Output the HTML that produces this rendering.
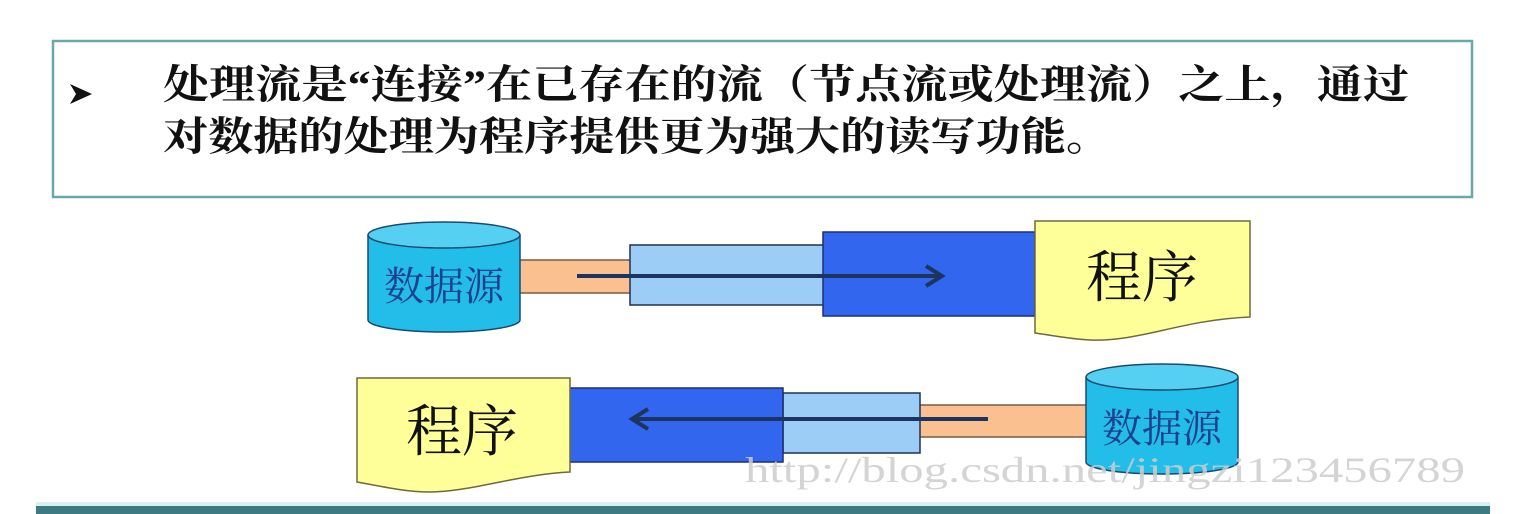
<!DOCTYPE html>
<html><head><meta charset="utf-8"><style>
html,body{margin:0;padding:0;background:#fff;}
body{width:1534px;height:514px;overflow:hidden;position:relative;}
</style></head><body>
<svg width="1534" height="514" xmlns="http://www.w3.org/2000/svg" style="position:absolute;left:0;top:0">
<rect x="53" y="41" width="1419" height="156" fill="#fff" stroke="#6aa7a8" stroke-width="2.5"/>
<path d="M70 84 L92 94 L70 104 L76 94 Z" fill="#111"/>
<text x="163" y="98" font-family="'Liberation Serif','Noto Serif CJK SC',serif" font-size="40" font-weight="bold" fill="#111" textLength="1246" lengthAdjust="spacingAndGlyphs">处理流是“连接”在已存在的流（节点流或处理流）之上，通过</text>
<text x="163" y="150" font-family="'Liberation Serif','Noto Serif CJK SC',serif" font-size="40" font-weight="bold" fill="#111" textLength="948" lengthAdjust="spacingAndGlyphs">对数据的处理为程序提供更为强大的读写功能。</text>

<!-- top row -->
<rect x="518" y="260" width="114" height="33" fill="#fac090" stroke="#7a5a40" stroke-width="1.5"/>
<rect x="630" y="245" width="195" height="60" fill="#9bcdf6" stroke="#1f3050" stroke-width="1.5"/>
<rect x="823" y="232" width="212" height="84" fill="#3366ee" stroke="#1f2f70" stroke-width="1.5"/>
<path d="M368 235 V320 A76 12 0 0 0 520 320 V235" fill="#22bde9" stroke="#1a4a70" stroke-width="1.5"/>
<ellipse cx="444" cy="235" rx="76" ry="13" fill="#55d0f2" stroke="#1a4a70" stroke-width="1.5"/>
<text x="444" y="300" text-anchor="middle" font-family="'Liberation Serif','Noto Serif CJK SC',serif" font-size="40" fill="#1f3f8f">数据源</text>
<line x1="577" y1="276" x2="940" y2="276" stroke="#1c3560" stroke-width="4"/>
<path d="M926 266 L942 276 L926 286" fill="none" stroke="#1c3560" stroke-width="4"/>
<path d="M1035 221 H1250 V317 C1180 320 1140 342 1090 340 C1070 339 1050 335 1035 333 Z" fill="#ffff99" stroke="#6b6b3a" stroke-width="1.5"/>
<text x="1142" y="297" text-anchor="middle" font-family="'Liberation Serif','Noto Serif CJK SC',serif" font-size="56" fill="#111">程序</text>

<!-- bottom row -->
<rect x="918" y="405" width="170" height="32" fill="#fac090" stroke="#7a5a40" stroke-width="1.5"/>
<rect x="783" y="393" width="137" height="60" fill="#9bcdf6" stroke="#1f3050" stroke-width="1.5"/>
<rect x="568" y="388" width="215" height="74" fill="#3366ee" stroke="#1f2f70" stroke-width="1.5"/>
<path d="M1086 377 V462 A76 12 0 0 0 1238 462 V377" fill="#22bde9" stroke="#1a4a70" stroke-width="1.5"/>
<ellipse cx="1162" cy="377" rx="76" ry="13" fill="#55d0f2" stroke="#1a4a70" stroke-width="1.5"/>
<text x="1162" y="442" text-anchor="middle" font-family="'Liberation Serif','Noto Serif CJK SC',serif" font-size="40" fill="#1f3f8f">数据源</text>
<line x1="988" y1="419" x2="634" y2="419" stroke="#1c3560" stroke-width="4"/>
<path d="M648 409 L632 419 L648 429" fill="none" stroke="#1c3560" stroke-width="4"/>
<path d="M357 378 H570 V472 C520 474 470 492 430 492 C405 492 380 486 357 482 Z" fill="#ffff99" stroke="#6b6b3a" stroke-width="1.5"/>
<text x="462" y="451" text-anchor="middle" font-family="'Liberation Serif','Noto Serif CJK SC',serif" font-size="56" fill="#111">程序</text>

<text x="745" y="482" font-family="'Liberation Serif',serif" font-size="36" fill="#cccccc" fill-opacity="0.85" textLength="720" lengthAdjust="spacingAndGlyphs">http://blog.csdn.net/jingzi123456789</text>

<rect x="36" y="502" width="1454" height="4" fill="#d8f0f0"/>
<rect x="36" y="506" width="1454" height="8" fill="#3d7b80"/>
</svg>
</body></html>
